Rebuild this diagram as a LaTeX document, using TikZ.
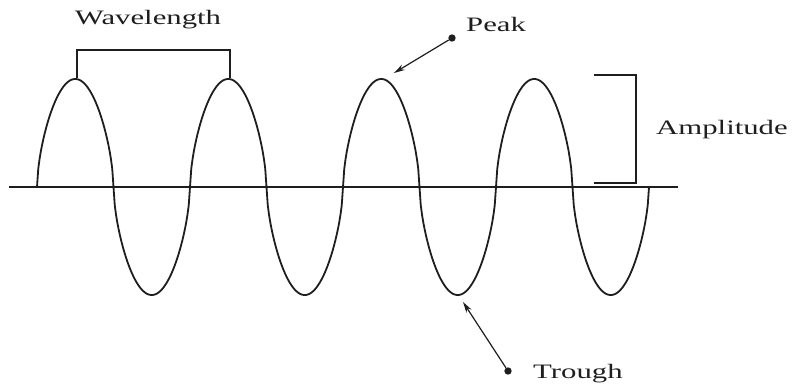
\documentclass[tikz,border=0pt]{standalone}
\usepackage{fontspec}
\usetikzlibrary{arrows.meta, positioning}
\newfontfamily\labelfont[FakeStretch=1.5]{Liberation Serif}
\definecolor{waveink}{RGB}{30,30,30}

\begin{document}
\begin{tikzpicture}[
    x=1pt, y=-1pt,
    wavetext/.style={inner sep=0pt, text=waveink,
                     font=\labelfont\fontsize{20.5}{24}\selectfont},
    wave/.style={line width=1.8pt, waveink},
    brace/.style={line width=1.2pt, waveink},
    pointer/.style={-{Stealth[length=11pt, width=6pt]}, line width=1.2pt, waveink},
    dot/.style={circle, fill=waveink, inner sep=2.6pt}
]
\useasboundingbox (0,0) rectangle (792,385);
% axis and wave
\draw[brace] (9,187) -- (678,187);
\draw[wave] plot[domain=0:1440, samples=481]
    ({37+\x/360*153}, {187-108*sign(sin(\x))*pow(abs(sin(\x))+0.0001,0.6)});
% wavelength bracket
\draw[brace] (77,78) -- (77,50) -- (230,50) -- (230,78);
\node[wavetext, anchor=base] (wavelength) at (148,25) {Wavelength};
% amplitude bracket
\draw[brace] (594,75) -- (636,75) -- (636,183) -- (594,183);
\node[wavetext, anchor=base west] (amplitude) at (656,135) {Amplitude};
% peak and trough pointers
\coordinate (peaktip) at (394,73);
\coordinate (troughtip) at (463,302);
\node[dot] (peakdot) at (452,38) {};
\node[dot] (troughdot) at (508,371) {};
\node[wavetext, anchor=base west] (peak) at (466,32) {Peak};
\node[wavetext, anchor=base west] (trough) at (533,378) {Trough};
\draw[pointer] (peakdot) -- (peaktip);
\draw[pointer] (troughdot) -- (troughtip);
\end{tikzpicture}
\end{document}
